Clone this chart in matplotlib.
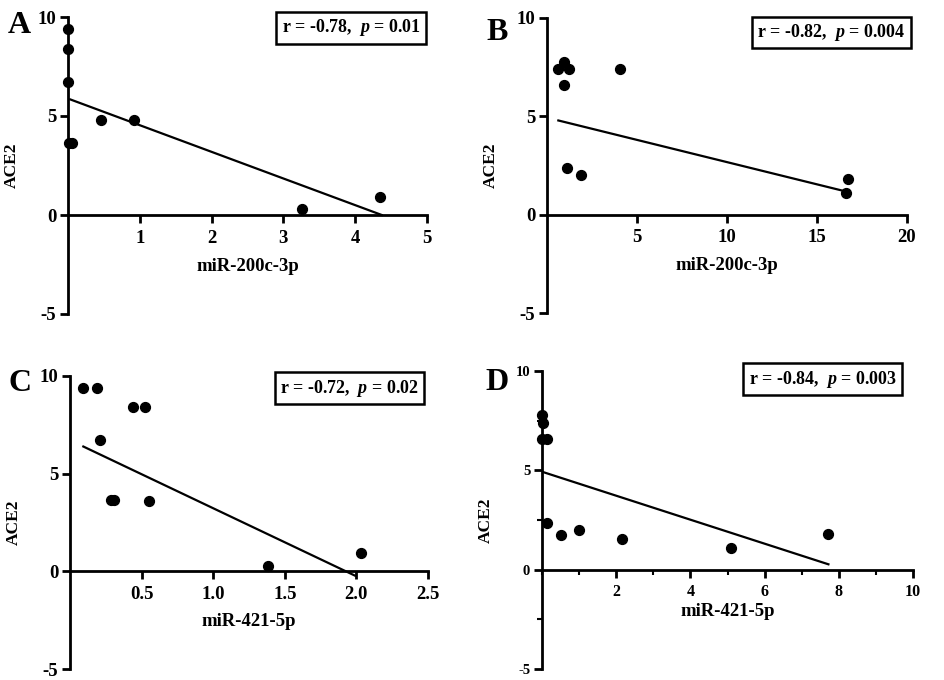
import matplotlib

matplotlib.use("Agg")
import matplotlib.pyplot as plt
from matplotlib.ticker import MultipleLocator

plt.rcParams["font.family"] = ["Liberation Serif", "DejaVu Serif"]
plt.rcParams["font.weight"] = "bold"
plt.rcParams["mathtext.fontset"] = "custom"
plt.rcParams["mathtext.rm"] = "Liberation Serif:bold"
plt.rcParams["mathtext.it"] = "Liberation Serif:bold:italic"

# ---- data ----
a_x = [0.0, 0.0, 0.0, 0.02, 0.05, 0.455, 0.92, 3.26, 4.35]
a_y = [9.38, 8.38, 6.73, 3.62, 3.62, 4.8, 4.8, 0.29, 0.93]
a_fit_x = [0.03, 4.37]
a_fit_y = [5.84, 0.0]

b_x = [0.63, 0.96, 1.2, 0.96, 1.1, 1.88, 4.06, 16.75, 16.6]
b_y = [7.42, 7.75, 7.42, 6.57, 2.37, 2.03, 7.4, 1.81, 1.1]
b_fit_x = [0.63, 16.6]
b_fit_y = [4.79, 1.18]

c_x = [0.093, 0.187, 0.21, 0.287, 0.31, 0.438, 0.524, 0.555, 1.38, 2.03]
c_y = [9.37, 9.37, 6.73, 3.64, 3.64, 8.4, 8.4, 3.59, 0.29, 0.95]
c_fit_x = [0.093, 1.99]
c_fit_y = [6.39, -0.22]

d_x = [0.0, 0.02, 0.0, 0.14, 0.13, 0.51, 1.0, 2.15, 5.09, 7.72]
d_y = [7.77, 7.38, 6.6, 6.6, 2.35, 1.77, 2.02, 1.55, 1.1, 1.82]
d_fit_x = [0.0, 7.72]
d_fit_y = [4.93, 0.27]

panels = ["A", "B", "C", "D"]
xlabels = ["miR-200c-3p", "miR-200c-3p", "miR-421-5p", "miR-421-5p"]
r_vals = ["-0.78", "-0.82", "-0.72", "-0.84"]
p_vals = ["0.01", "0.004", "0.02", "0.003"]
x_max = [5, 20, 2.5, 10]
x_step = [1, 5, 0.5, 2]
xtick_labels = [
    ["1", "2", "3", "4", "5"],
    ["5", "10", "15", "20"],
    ["0.5", "1.0", "1.5", "2.0", "2.5"],
    ["2", "4", "6", "8", "10"],
]
series = [
    (a_x, a_y, a_fit_x, a_fit_y),
    (b_x, b_y, b_fit_x, b_fit_y),
    (c_x, c_y, c_fit_x, c_fit_y),
    (d_x, d_y, d_fit_x, d_fit_y),
]

# layout (pixels measured on the reference)
W, H = 945, 680
rects = [
    (68 / W, 1 - 314 / H, (427 - 68) / W, (314 - 17) / H),
    (547 / W, 1 - 313 / H, (907 - 547) / W, (313 - 18) / H),
    (70 / W, 1 - 669 / H, (428 - 70) / W, (669 - 376) / H),
    (542 / W, 1 - 669 / H, (913 - 542) / W, (669 - 371) / H),
]
box_pos = [(0.983, 0.963), (0.997, 0.951), (0.975, 0.959), (0.957, 0.973)]
letter_pos = [(-0.167, 0.973), (-0.167, 0.95), (-0.172, 0.976), (-0.152, 0.963)]
xlabel_y = [0.19, 0.19, 0.19, 0.22]
tick_fs = [13.5, 13.5, 13.5, 11.5]

fig = plt.figure(figsize=(9.45, 6.8), dpi=100)

for i in range(4):
    ax = fig.add_axes(rects[i])
    xs, ys, fx, fy = series[i]
    ax.plot(fx, fy, color="black", lw=1.6, zorder=2)
    ax.scatter(xs, ys, s=50, color="black", zorder=3, clip_on=False)

    ax.set_xlim(0, x_max[i])
    ax.set_ylim(-5, 10)
    ax.spines["top"].set_visible(False)
    ax.spines["right"].set_visible(False)
    ax.spines["bottom"].set_position(("data", 0))
    for s in ("left", "bottom"):
        ax.spines[s].set_linewidth(2.0)

    ticks = [x_step[i] * (k + 1) for k in range(len(xtick_labels[i]))]
    ax.set_xticks(ticks)
    ax.set_xticklabels(xtick_labels[i])
    ax.set_yticks([-5, 0, 5, 10])
    ax.set_yticklabels(["-5", "0", "5", "10"])
    ax.tick_params(axis="both", direction="out", length=5.5, width=2,
                   labelsize=tick_fs[i], pad=3)
    ax.tick_params(axis="x", pad=5)
    if i == 3:
        ax.tick_params(axis="y", labelsize=10.5)
        ax.xaxis.set_minor_locator(MultipleLocator(1))
        ax.yaxis.set_minor_locator(MultipleLocator(2.5))
        ax.tick_params(which="minor", direction="out", length=3.5, width=1.5)
    for lab in ax.get_xticklabels() + ax.get_yticklabels():
        lab.set_fontweight("bold")

    ax.set_xlabel(xlabels[i], fontsize=13.5, fontweight="bold")
    ax.xaxis.set_label_coords(0.5, xlabel_y[i])
    ax.set_ylabel("ACE2", fontsize=12.5, fontweight="bold")
    ax.yaxis.set_label_coords(-48 / (rects[i][2] * W), 0.5)

    ax.text(letter_pos[i][0], letter_pos[i][1], panels[i], transform=ax.transAxes,
            fontsize=23, fontweight="bold", ha="left", va="center")

    ax.text(box_pos[i][0], box_pos[i][1],
            rf"r = {r_vals[i]},  $\mathit{{p}}$ = {p_vals[i]}",
            transform=ax.transAxes, fontsize=13, fontweight="bold",
            ha="right", va="center",
            bbox=dict(boxstyle="square,pad=0.3", facecolor="white",
                      edgecolor="black", linewidth=1.8))

fig.savefig("out.png", dpi=100, facecolor="white")
